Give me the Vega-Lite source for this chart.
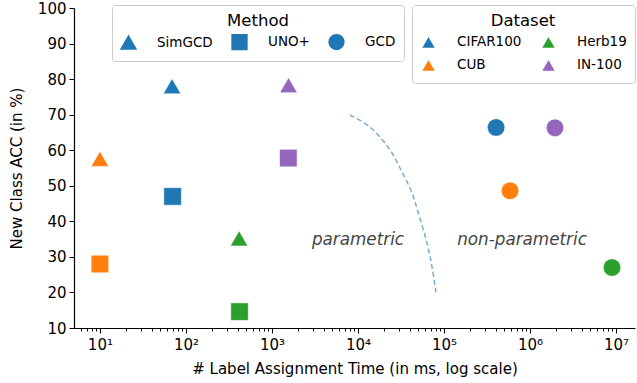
{
  "$schema": "https://vega.github.io/schema/vega-lite/v6.json",
  "width": 561,
  "height": 320,
  "autosize": "none",
  "padding": {"left": 74, "top": 8, "right": 2, "bottom": 55},
  "config": {
    "font": "DejaVu Sans",
    "view": {"stroke": null},
    "axis": {"domainColor": "#000", "tickColor": "#000", "labelColor": "#000", "titleColor": "#000", "labelFontSize": 15, "titleFontSize": 15, "titleFontWeight": "normal", "grid": false, "domainWidth": 1.2}
  },
  "datasets": {
    "pts": [
      {"method": "SimGCD", "dataset": "CIFAR100", "time": 69, "acc": 78.0},
      {"method": "SimGCD", "dataset": "CUB", "time": 10, "acc": 57.6},
      {"method": "SimGCD", "dataset": "Herb19", "time": 415, "acc": 35.2},
      {"method": "SimGCD", "dataset": "IN-100", "time": 1560, "acc": 78.3},
      {"method": "UNO+", "dataset": "CIFAR100", "time": 70, "acc": 47.0},
      {"method": "UNO+", "dataset": "CUB", "time": 10, "acc": 28.0},
      {"method": "UNO+", "dataset": "Herb19", "time": 420, "acc": 14.6},
      {"method": "UNO+", "dataset": "IN-100", "time": 1550, "acc": 57.8},
      {"method": "GCD", "dataset": "CIFAR100", "time": 403000, "acc": 66.4},
      {"method": "GCD", "dataset": "CUB", "time": 585000, "acc": 48.6},
      {"method": "GCD", "dataset": "Herb19", "time": 8970000, "acc": 27.0},
      {"method": "GCD", "dataset": "IN-100", "time": 1950000, "acc": 66.3}
    ],
    "curve": [
      {"time": 8070, "acc": 69.9},
      {"time": 13800, "acc": 66.5},
      {"time": 23550, "acc": 60.1},
      {"time": 32500, "acc": 53.9},
      {"time": 42450, "acc": 48.0},
      {"time": 49900, "acc": 42.6},
      {"time": 63430, "acc": 33.9},
      {"time": 72440, "acc": 27.2},
      {"time": 80700, "acc": 20.1}
    ],
    "labels": [
      {"time": 10000, "acc": 34.7, "text": "parametric"},
      {"time": 807000, "acc": 34.7, "text": "non-parametric"}
    ]
  },
  "encoding": {
    "x": {
      "field": "time", "type": "quantitative",
      "scale": {"type": "log", "domain": [5, 16600000], "zero": false, "nice": false},
      "axis": {
        "title": "# Label Assignment Time (in ms, log scale)",
        "values": [6,7,8,9,10,20,30,40,50,60,70,80,90,100,200,300,400,500,600,700,800,900,1000,2000,3000,4000,5000,6000,7000,8000,9000,10000,20000,30000,40000,50000,60000,70000,80000,90000,100000,200000,300000,400000,500000,600000,700000,800000,900000,1000000,2000000,3000000,4000000,5000000,6000000,7000000,8000000,9000000,10000000],
        "labelExpr": "abs(datum.value - pow(10, round(log(datum.value)/LN10))) < 1e-6*datum.value ? '10' + ['⁰','¹','²','³','⁴','⁵','⁶','⁷','⁸'][round(log(datum.value)/LN10)] : ''",
        "tickSize": {"condition": {"test": "abs(datum.value - pow(10, round(log(datum.value)/LN10))) < 1e-6*datum.value", "value": 5}, "value": 3},
        "labelPadding": 4,
        "titlePadding": 9
      }
    },
    "y": {
      "field": "acc", "type": "quantitative",
      "scale": {"domain": [10, 100], "zero": false, "nice": false},
      "axis": {"title": "New Class ACC (in %)", "values": [10,20,30,40,50,60,70,80,90,100], "tickSize": 5, "labelPadding": 3, "titlePadding": 13}
    }
  },
  "layer": [
    {
      "data": {"name": "curve"},
      "mark": {"type": "line", "color": "#79add2", "strokeDash": [5, 3], "strokeWidth": 1.5, "interpolate": "catmull-rom", "clip": true},
      "encoding": {}
    },
    {
      "data": {"name": "labels"},
      "mark": {"type": "text", "fontStyle": "italic", "fontSize": 16.8, "color": "#444444", "align": "center", "baseline": "middle"},
      "encoding": {"text": {"field": "text"}}
    },
    {
      "data": {"name": "pts"},
      "mark": {"type": "point", "filled": true, "opacity": 1, "size": 310, "stroke": "white", "strokeWidth": 0.6},
      "encoding": {
        "shape": {
          "field": "method", "type": "nominal",
          "scale": {"domain": ["SimGCD", "UNO+", "GCD"], "range": ["triangle-up", "square", "circle"]},
          "legend": {"title": "Method", "orient": "none", "legendX": 38, "legendY": -3, "direction": "horizontal", "columns": 3, "titleAnchor": "middle", "titleFontSize": 16.5, "titleFontWeight": "normal", "titleColor": "#000", "labelColor": "#000", "labelFontSize": 13.5, "symbolFillColor": "#1f77b4", "symbolStrokeColor": "#1f77b4", "symbolSize": 220, "labelOffset": 20, "columnPadding": 16, "padding": 8, "strokeColor": "#cccccc", "fillColor": "white", "cornerRadius": 3, "titlePadding": 4}
        },
        "color": {
          "field": "dataset", "type": "nominal",
          "scale": {"domain": ["CIFAR100", "Herb19", "CUB", "IN-100"], "range": ["#1f77b4", "#2ca02c", "#ff7f0e", "#9467bd"]},
          "legend": {"title": "Dataset", "orient": "none", "legendX": 338, "legendY": -3, "direction": "horizontal", "columns": 2, "titleAnchor": "middle", "titleFontSize": 16.5, "titleFontWeight": "normal", "titleColor": "#000", "labelColor": "#000", "labelFontSize": 13.5, "symbolType": "triangle-up", "symbolSize": 220, "labelOffset": 20, "columnPadding": 16, "rowPadding": 4, "padding": 8, "strokeColor": "#cccccc", "fillColor": "white", "cornerRadius": 3, "titlePadding": 4}
        }
      }
    }
  ]
}
